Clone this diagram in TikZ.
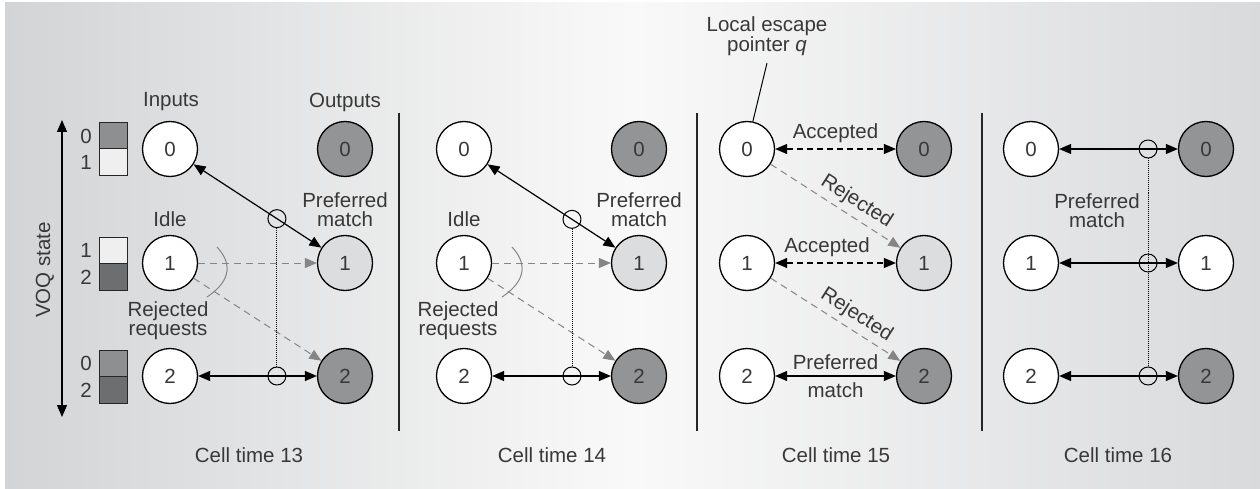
\documentclass[tikz,border=0pt]{standalone}
\usepackage{fontspec}
\setmainfont{Liberation Sans}
\usetikzlibrary{arrows.meta,calc}

\definecolor{txt}{HTML}{383838}
\definecolor{outdark}{HTML}{939496}
\definecolor{outlight}{HTML}{DCDDDF}
\definecolor{voqmid}{HTML}{8E8F91}
\definecolor{voqdark}{HTML}{6D6E70}
\definecolor{voqlight}{HTML}{EFEFEF}
\definecolor{reqgray}{HTML}{858585}
\definecolor{bgleft}{HTML}{D3D4D6}
\definecolor{bgright}{HTML}{D9DADC}
\definecolor{bgmid}{HTML}{F9F9F9}

\newcommand\figfont{\fontsize{20.5}{19}\selectfont}

\begin{document}
\begin{tikzpicture}[x=1pt,y=-1pt,
  >={Triangle[length=12pt,width=10pt]},
  port/.style={circle,draw=black,line width=1.3pt,minimum size=55pt,inner sep=0pt,font=\figfont,text=txt},
  inport/.style={port,fill=white},
  outdk/.style={port,fill=outdark},
  outlt/.style={port,fill=outlight},
  outwh/.style={port,fill=white},
  lab/.style={font=\figfont,text=txt,align=center,inner sep=0pt},
  match/.style={<->,line width=1.2pt,black},
  accept/.style={<->,line width=1.2pt,black,dash pattern=on 6pt off 4pt},
  req/.style={-{Triangle[length=12pt,width=10pt]},line width=1pt,reqgray,dash pattern=on 7pt off 5pt},
  ring/.style={circle,draw=black,line width=1pt,minimum size=18pt,inner sep=0pt},
  ptr/.style={line width=0.9pt,black,dash pattern=on 1pt off 1pt},
  brace/.style={line width=1pt,reqgray},
  divider/.style={line width=1.2pt,black!85},
  voq/.style={draw=black!85,line width=1pt}
]
% canvas with graded gray background
\useasboundingbox (0,0) rectangle (1260,489);
\fill[white] (0,0) rectangle (1260,489);
\shade[left color=bgleft,right color=bgright,middle color=bgmid,shading=axis] (5,3) rectangle (1260,489);

% panel dividers
\draw[divider] (399,113) -- (399,431);
\draw[divider] (697,113) -- (697,431);
\draw[divider] (982,113) -- (982,431);

% VOQ state axis
\draw[<->,line width=1.2pt] (62,120) -- (62,417);
\node[lab,rotate=90] (voqlbl) at (45,270) {VOQ state};

% VOQ occupancy boxes
\filldraw[voq,fill=voqmid] (99,123) rectangle (127,149);
\filldraw[voq,fill=voqlight] (99,149) rectangle (127,176);
\filldraw[voq,fill=voqlight] (99,237) rectangle (127,263);
\filldraw[voq,fill=voqdark] (99,263) rectangle (127,290);
\filldraw[voq,fill=voqmid] (99,350) rectangle (127,376);
\filldraw[voq,fill=voqdark] (99,376) rectangle (127,403);
\node[lab] (q00) at (86,136) {0};
\node[lab] (q01) at (86,162) {1};
\node[lab] (q11) at (86,250) {1};
\node[lab] (q12) at (86,277) {2};
\node[lab] (q20) at (86,363) {0};
\node[lab] (q22) at (86,390) {2};

% ---------- Cell time 13 ----------
\node[inport] (a0) at (170,149) {0};
\node[inport] (a1) at (170,263) {1};
\node[inport] (a2) at (170,376) {2};
\node[outdk] (b0) at (345,149) {0};
\node[outlt] (b1) at (345,263) {1};
\node[outdk] (b2) at (345,376) {2};
\node[lab] (inlbl) at (171,102) {Inputs};
\node[lab] (outlbl) at (345,102) {Outputs};
\node[lab] (prefa) at (345,210) {Preferred\\match};
\node[lab] (idlea) at (170,219) {Idle};
\node[lab] (reja) at (168,321) {Rejected\\requests};
\draw[req] (a1) -- (b1);
\draw[req] (a1) -- (b2);
\draw[match] (a0) -- (b1);
\draw[match] (a2) -- (b2);
\path (a0.center) -- (b1.center) coordinate[pos=0.611] (ka);
\node[ring] (ra) at (ka) {};
\node[ring] (rb) at ($(a2)!0.611!(b2)$) {};
\draw[ptr] (ra.south) -- (rb.north);
\draw[brace] ([shift={(47,-16)}]a1.center) .. controls ([shift={(60,-2)}]a1.center) and ([shift={(64,16)}]a1.center) .. ([shift={(37,34)}]a1.center);
\node[lab] (cta) at (249,455) {Cell time 13};

% ---------- Cell time 14 ----------
\node[inport] (c0) at (464,149) {0};
\node[inport] (c1) at (464,263) {1};
\node[inport] (c2) at (464,376) {2};
\node[outdk] (d0) at (639,149) {0};
\node[outlt] (d1) at (639,263) {1};
\node[outdk] (d2) at (639,376) {2};
\node[lab] (prefb) at (639,210) {Preferred\\match};
\node[lab] (idleb) at (464,219) {Idle};
\node[lab] (rejb) at (458,321) {Rejected\\requests};
\draw[req] (c1) -- (d1);
\draw[req] (c1) -- (d2);
\draw[match] (c0) -- (d1);
\draw[match] (c2) -- (d2);
\path (c0.center) -- (d1.center) coordinate[pos=0.617] (kb);
\node[ring] (rc) at (kb) {};
\node[ring] (rd) at ($(c2)!0.617!(d2)$) {};
\draw[ptr] (rc.south) -- (rd.north);
\draw[brace] ([shift={(48,-16)}]c1.center) .. controls ([shift={(61,-2)}]c1.center) and ([shift={(65,16)}]c1.center) .. ([shift={(38,34)}]c1.center);
\node[lab] (ctb) at (552,455) {Cell time 14};

% ---------- Cell time 15 ----------
\node[inport] (e0) at (747,149) {0};
\node[inport] (e1) at (747,263) {1};
\node[inport] (e2) at (747,376) {2};
\node[outdk] (f0) at (924,149) {0};
\node[outlt] (f1) at (924,263) {1};
\node[outdk] (f2) at (924,376) {2};
\node[lab] (esc) at (767,36) {Local escape\\pointer \textit{q}};
\coordinate (escfoot) at (767,63);
\draw[line width=1pt,black] (escfoot) -- (e0.78);
\draw[req] (e0) -- node[lab,sloped,above=5pt,pos=0.6] (rej0) {Rejected} (f1);
\draw[req] (e1) -- node[lab,sloped,above=5pt,pos=0.6] (rej1) {Rejected} (f2);
\draw[accept] (e0) -- node[lab,above=6pt,pos=0.5] (acc0) {Accepted} (f0);
\draw[accept] (e1) -- node[lab,above=6pt,pos=0.43] (acc1) {Accepted} (f1);
\draw[match] (e2) -- node[lab,above=6pt] (pm3) {Preferred} node[lab,below=6pt] (pm3b) {match} (f2);
\node[lab] (ctc) at (836,455) {Cell time 15};

% ---------- Cell time 16 ----------
\node[inport] (g0) at (1031,149) {0};
\node[inport] (g1) at (1031,263) {1};
\node[inport] (g2) at (1031,376) {2};
\node[outdk] (h0) at (1206,149) {0};
\node[outwh] (h1) at (1206,263) {1};
\node[outdk] (h2) at (1206,376) {2};
\draw[match] (g0) -- (h0);
\draw[match] (g1) -- (h1);
\draw[match] (g2) -- (h2);
\node[ring] (re) at ($(g0)!0.669!(h0)$) {};
\node[ring] (rf) at ($(g1)!0.669!(h1)$) {};
\node[ring] (rg) at ($(g2)!0.669!(h2)$) {};
\draw[ptr] (re.south) -- (rg.north);
\node[lab] (prefd) at (1097,211) {Preferred\\match};
\node[lab] (ctd) at (1118,455) {Cell time 16};
\end{tikzpicture}
\end{document}
